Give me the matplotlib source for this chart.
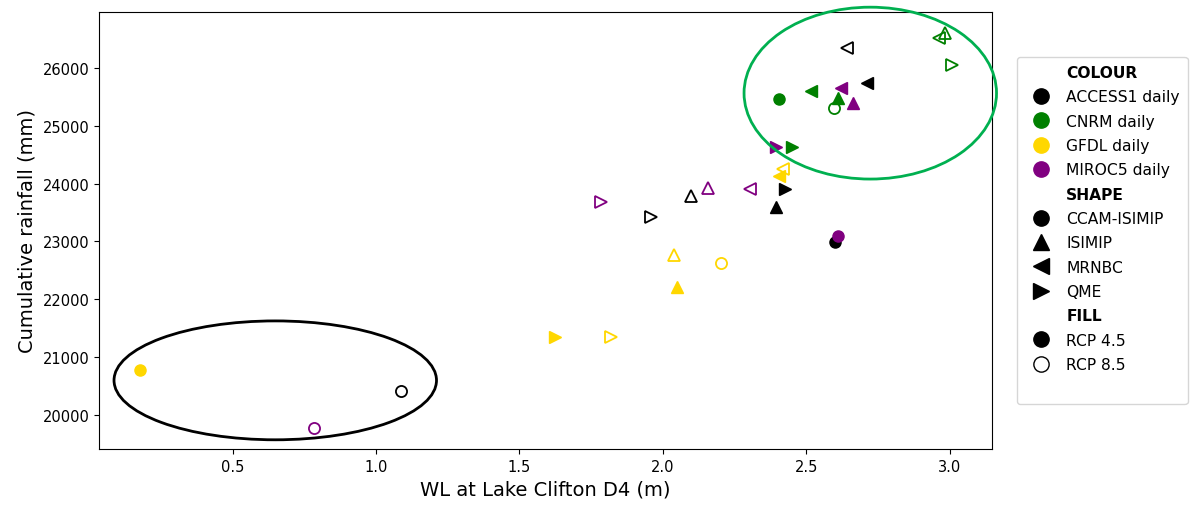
import matplotlib
matplotlib.use('Agg')
import matplotlib.pyplot as plt
from matplotlib.lines import Line2D
from matplotlib.patches import Ellipse

# Data: (GCM, downscaling method, RCP)
gcms = ['ACCESS1 daily', 'CNRM daily', 'GFDL daily', 'MIROC5 daily']
gcm_colors = ['black', 'green', 'gold', 'purple']
methods = ['CCAM-ISIMIP', 'ISIMIP', 'MRNBC', 'QME']
method_markers = ['o', '^', '<', '>']

# WL at Lake Clifton D4 (m) and cumulative rainfall (mm), per GCM, method order as above
wl_rcp45 = {
    'ACCESS1 daily': [2.600, 2.394, 2.712, 2.426],
    'CNRM daily':    [2.405, 2.610, 2.517, 2.450],
    'GFDL daily':    [0.178, 2.049, 2.405, 1.623],
    'MIROC5 daily':  [2.611, 2.664, 2.621, 2.394],
}
rain_rcp45 = {
    'ACCESS1 daily': [22990, 23600, 25750, 23910],
    'CNRM daily':    [25465, 25475, 25610, 24635],
    'GFDL daily':    [20780, 22215, 24135, 21350],
    'MIROC5 daily':  [23095, 25390, 25650, 24635],
}
wl_rcp85 = {
    'ACCESS1 daily': [1.089, 2.098, 2.642, 1.958],
    'CNRM daily':    [2.598, 2.984, 2.961, 3.009],
    'GFDL daily':    [2.202, 2.038, 2.419, 1.818],
    'MIROC5 daily':  [0.785, 2.157, 2.304, 1.784],
}
rain_rcp85 = {
    'ACCESS1 daily': [20415, 23790, 26345, 23425],
    'CNRM daily':    [25305, 26615, 26515, 26055],
    'GFDL daily':    [22630, 22765, 24255, 21350],
    'MIROC5 daily':  [19775, 23925, 23910, 23685],
}

fig = plt.figure(figsize=(11.94, 5.06), dpi=100)
ax = fig.add_axes([0.083, 0.111, 0.748, 0.863])

for gcm, col in zip(gcms, gcm_colors):
    for i, (meth, mk) in enumerate(zip(methods, method_markers)):
        ax.plot(wl_rcp45[gcm][i], rain_rcp45[gcm][i], linestyle='none', marker=mk,
                markersize=8, color=col, markeredgecolor=col)
        ax.plot(wl_rcp85[gcm][i], rain_rcp85[gcm][i], linestyle='none', marker=mk,
                markersize=8, markerfacecolor='none', markeredgecolor=col,
                markeredgewidth=1.3)

ax.set_xlim(0.035, 3.148)
ax.set_ylim(19412, 26968)
ax.set_xticks([0.5, 1.0, 1.5, 2.0, 2.5, 3.0])
ax.set_yticks([20000, 21000, 22000, 23000, 24000, 25000, 26000])
ax.tick_params(labelsize=10.5)
ax.set_xlabel('WL at Lake Clifton D4 (m)', fontsize=14)
ax.set_ylabel('Cumulative rainfall (mm)', fontsize=14)

# Highlight ellipses
ax.add_patch(Ellipse((2.723, 25567), 0.880, 2974, fill=False, edgecolor='#00B050',
                     linewidth=2, clip_on=False, zorder=5))
ax.add_patch(Ellipse((0.649, 20597), 1.124, 2057, fill=False, edgecolor='black',
                     linewidth=2, clip_on=False, zorder=5))

# Legend
blank = Line2D([], [], linestyle='none', marker='')
handles, labels = [blank], ['COLOUR']
for gcm, col in zip(gcms, gcm_colors):
    handles.append(Line2D([], [], linestyle='none', marker='o', markersize=11, color=col))
    labels.append(gcm)
handles.append(blank)
labels.append('SHAPE')
for meth, mk in zip(methods, method_markers):
    handles.append(Line2D([], [], linestyle='none', marker=mk, markersize=11, color='black'))
    labels.append(meth)
handles.append(blank)
labels.append('FILL')
handles.append(Line2D([], [], linestyle='none', marker='o', markersize=11, color='black'))
labels.append('RCP 4.5')
handles.append(Line2D([], [], linestyle='none', marker='o', markersize=11,
                      markerfacecolor='none', markeredgecolor='black'))
labels.append('RCP 8.5')
handles.append(blank)
labels.append(' ')

leg = fig.legend(handles, labels, loc='upper left', bbox_to_anchor=(0.852, 0.885),
                 fontsize=11.2, frameon=True, handletextpad=0.65, labelspacing=0.6,
                 borderpad=0.5, borderaxespad=0)
for t in leg.get_texts():
    if t.get_text() in ('COLOUR', 'SHAPE', 'FILL'):
        t.set_fontweight('bold')

plt.savefig('out.png', dpi=100)
